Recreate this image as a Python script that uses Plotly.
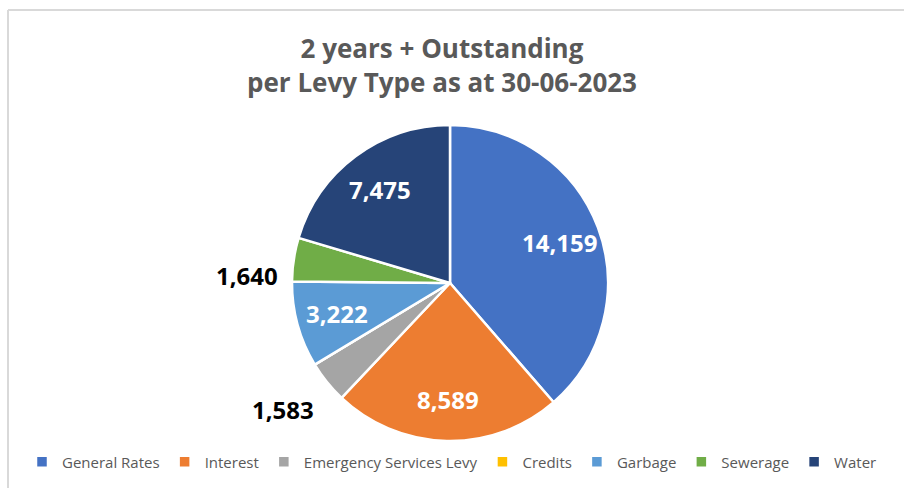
import math
import plotly.graph_objects as go

labels = ["General Rates", "Interest", "Emergency Services Levy", "Credits", "Garbage", "Sewerage", "Water"]
values = [14159, 8589, 1583, 0, 3222, 1640, 7475]
colors = ["#4472C4", "#ED7D31", "#A5A5A5", "#FFC000", "#5B9BD5", "#70AD47", "#264478"]
label_place = ["inside", "inside", "outside", "none", "inside", "outside", "inside"]

W, H = 904, 488
cx, cy, r = 450, 283, 158

fig = go.Figure(go.Pie(
    labels=labels, values=values, sort=False, direction="clockwise", rotation=0,
    marker=dict(colors=colors, line=dict(color="white", width=2.5)),
    textinfo="none",
    hovertemplate="%{label}: %{value:,}<extra></extra>",
    showlegend=True,
    domain=dict(x=[(cx - r) / W, (cx + r) / W], y=[(H - cy - r) / H, (H - cy + r) / H]),
    automargin=False,
))

# data labels placed from the slice angles
annotations = []
total = sum(values)
cum = 0
for lab, v, place in zip(labels, values, label_place):
    a = math.radians((cum + v / 2) / total * 360)
    cum += v
    if place == "none" or v == 0:
        continue
    s, c = math.sin(a), math.cos(a)
    if place == "inside":
        rr = 0.74
        px = cx + rr * r * s
        py = cy - rr * r * c
        annotations.append(dict(x=px / W, y=1 - py / H, xref="paper", yref="paper",
                                text=f"{v:,}", showarrow=False, xanchor="center", yanchor="middle",
                                font=dict(family="Open Sans", size=24, color="white", weight="bold")))
    else:
        rr = 1.088
        px = cx + rr * r * s
        py = cy - rr * r * c
        xa = "right" if s < 0 else "left"
        ya = "bottom" if c > 0.5 else "top"
        annotations.append(dict(x=px / W, y=1 - py / H, xref="paper", yref="paper",
                                text=f"{v:,}", showarrow=False, xanchor=xa, yanchor=ya,
                                font=dict(family="Open Sans", size=24, color="black", weight="bold")))

fig.update_layout(
    width=W, height=H,
    margin=dict(l=0, r=0, t=0, b=0),
    paper_bgcolor="white",
    title=dict(text="2 years + Outstanding<br>per Levy Type as at 30-06-2023",
               x=442 / W, xanchor="center", y=1 - 58 / H, yanchor="top",
               font=dict(family="Open Sans", size=26, color="#595959", weight="bold")),
    legend=dict(orientation="h", x=0.5, xanchor="center", y=1 - 462 / H, yanchor="middle",
                font=dict(family="Open Sans", size=15, color="#595959"),
                itemwidth=30, tracegroupgap=0),
    annotations=annotations,
    shapes=[
        dict(type="line", xref="paper", yref="paper", x0=8 / W, x1=1, y0=1 - 10 / H, y1=1 - 10 / H,
             line=dict(color="#D9D9D9", width=2)),
        dict(type="line", xref="paper", yref="paper", x0=8 / W, x1=8 / W, y0=0, y1=1 - 10 / H,
             line=dict(color="#D9D9D9", width=2)),
    ],
)

fig.write_html("out.html")
